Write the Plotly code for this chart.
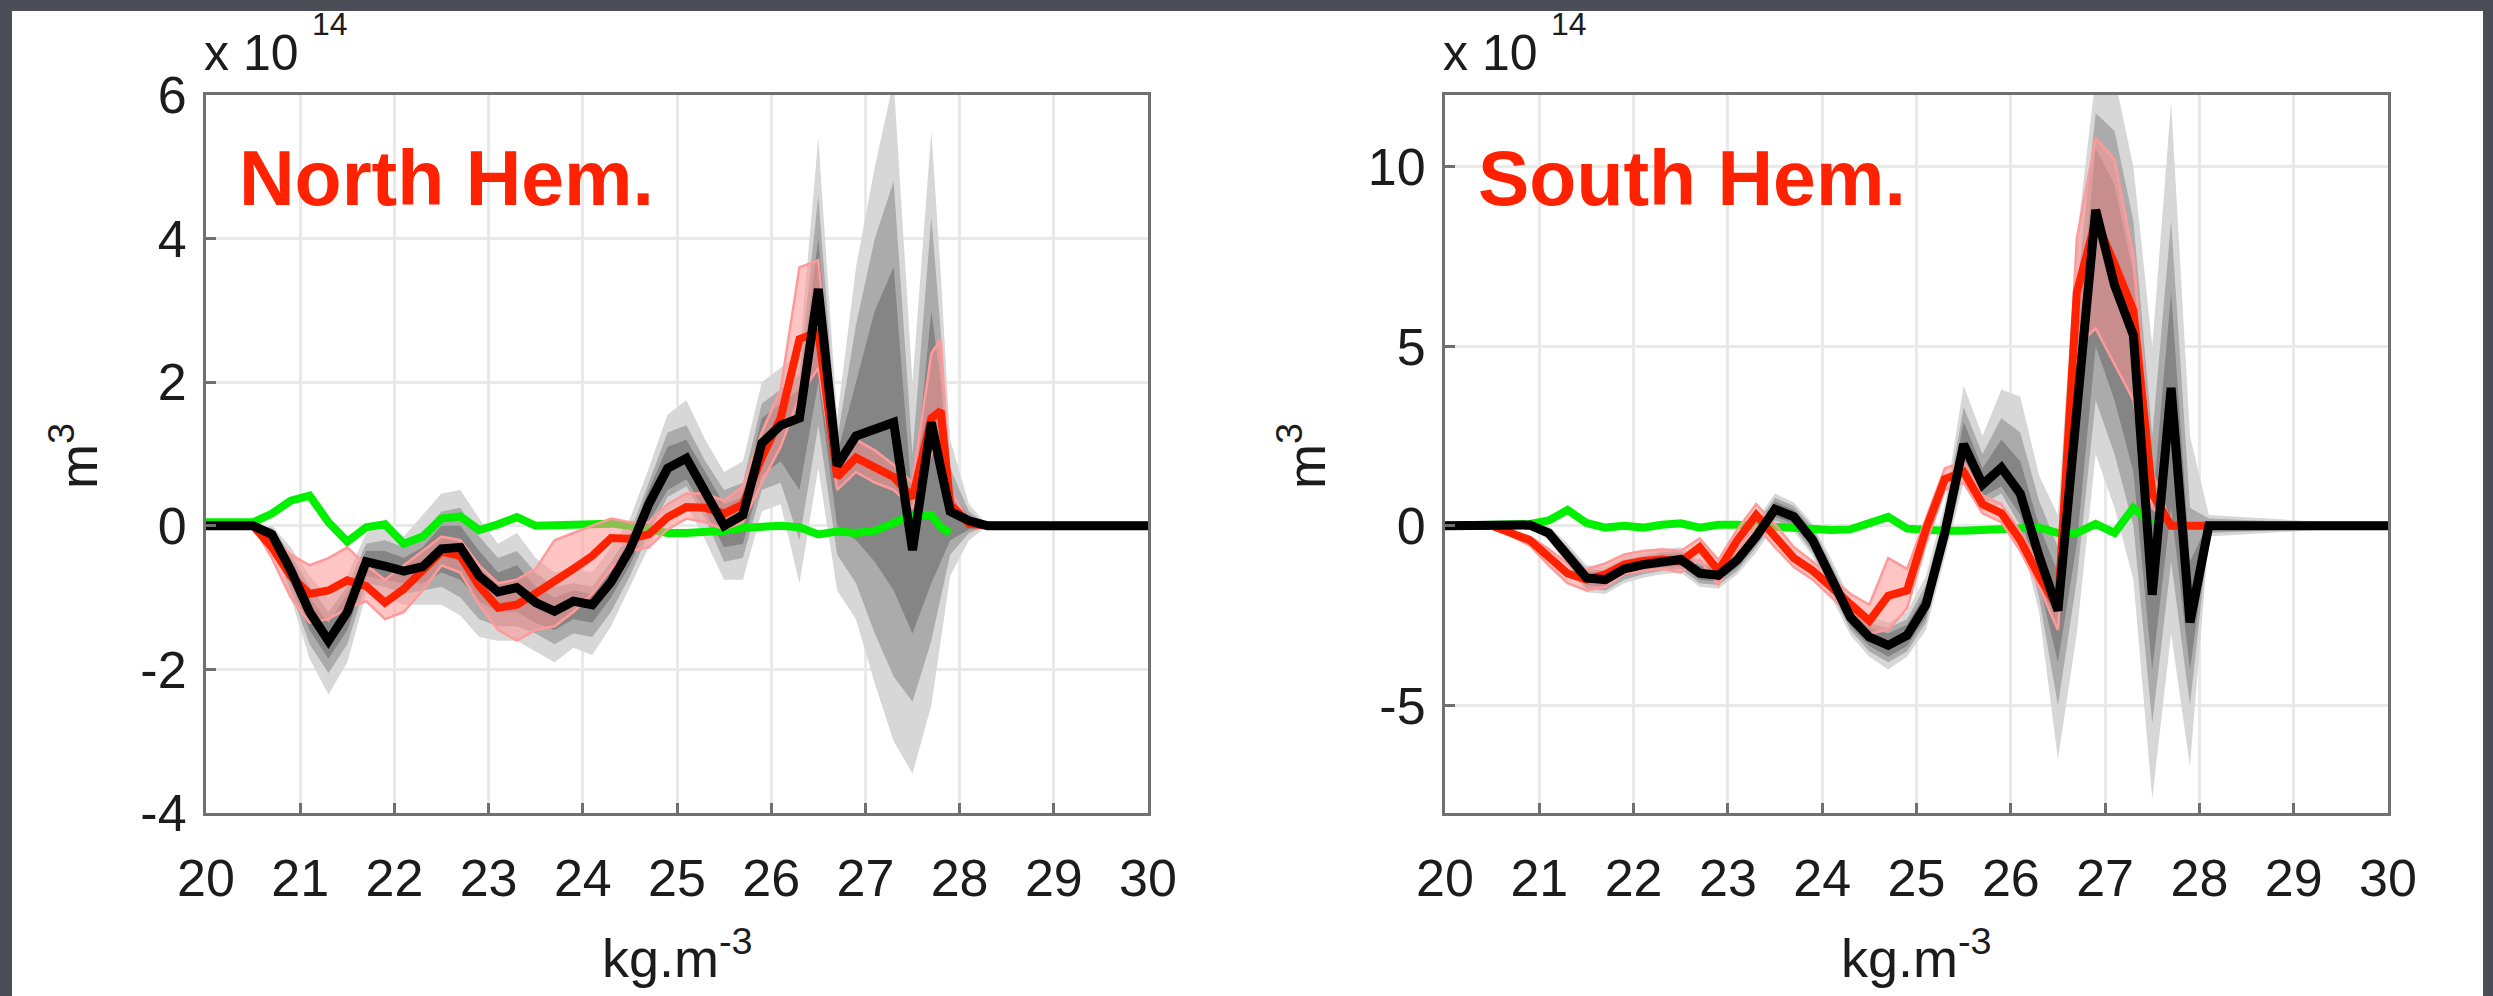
import plotly.graph_objects as go

# ---------------- data: North Hemisphere ----------------
nh_x = [20.0, 20.5, 20.7, 20.9, 21.1, 21.3, 21.5, 21.7, 21.9, 22.1, 22.3, 22.5, 22.7, 22.9,
        23.1, 23.3, 23.5, 23.7, 23.9, 24.1, 24.3, 24.5, 24.7, 24.9, 25.1, 25.3, 25.5, 25.7,
        25.9, 26.1, 26.3, 26.5, 26.7, 26.9, 27.1, 27.3, 27.5, 27.7, 27.8, 27.9, 28.1, 28.3, 30.0]
nh_black = [0, 0, -0.12, -0.62, -1.2, -1.6, -1.2, -0.5, -0.56, -0.63, -0.57, -0.32, -0.3, -0.7,
            -0.92, -0.86, -1.07, -1.19, -1.05, -1.1, -0.78, -0.33, 0.3, 0.8, 0.94, 0.48, 0.0, 0.15,
            1.15, 1.4, 1.5, 3.3, 0.84, 1.25, 1.35, 1.44, -0.34, 1.44, 0.8, 0.2, 0.07, 0, 0]
nh_red = [0, 0, -0.3, -0.7, -0.95, -0.9, -0.76, -0.84, -1.07, -0.88, -0.62, -0.36, -0.42, -0.84,
          -1.14, -1.1, -0.94, -0.78, -0.6, -0.42, -0.17, -0.18, -0.12, 0.12, 0.26, 0.25, 0.17, 0.3,
          0.95, 1.5, 2.6, 2.7, 0.68, 0.95, 0.8, 0.68, 0.39, 1.5, 1.6, 0.3, 0.03, 0, 0]
nh_green = [0.05, 0.05, 0.17, 0.35, 0.42, 0.05, -0.22, -0.02, 0.02, -0.25, -0.15, 0.1, 0.13, -0.06,
            0.02, 0.12, 0.0, 0.01, 0.02, 0.04, 0.03, 0.0, -0.05, -0.1, -0.1, -0.09, -0.07, -0.03,
            -0.02, 0.0, -0.02, -0.12, -0.08, -0.1, -0.07, 0.05, 0.15, 0.15, -0.02, -0.1, None, None, None]
nh_pink_lo = [0, 0, -0.45, -1.0, -1.35, -1.3, -1.15, -1.05, -1.3, -1.2, -0.9, -0.55, -0.65, -1.1,
              -1.45, -1.6, -1.45, -1.4, -1.2, -0.95, -0.6, -0.35, -0.3, -0.05, 0.1, 0.05, -0.05, 0.05,
              0.6, 1.1, 1.8, 2.2, 0.5, 0.75, 0.6, 0.5, 0.25, 1.0, 1.1, 0.2, 0.0, 0, 0]
nh_pink_hi = [0, 0, -0.15, -0.4, -0.55, -0.45, -0.3, -0.55, -0.75, -0.55, -0.35, -0.15, -0.2, -0.55,
              -0.8, -0.75, -0.6, -0.2, -0.1, 0.0, 0.1, 0.05, 0.05, 0.3, 0.45, 0.45, 0.35, 0.55,
              1.3, 1.9, 3.6, 3.7, 0.9, 1.2, 1.05, 0.85, 0.6, 2.4, 2.6, 0.5, 0.05, 0, 0]
nh_light_lo = [0, 0, -0.25, -1.0, -1.85, -2.35, -1.9, -0.95, -1.0, -1.1, -1.1, -1.1, -1.25, -1.55,
               -1.6, -1.6, -1.75, -1.9, -1.7, -1.8, -1.4, -0.85, -0.3, 0.15, 0.3, -0.2, -0.75, -0.75,
               0.2, 0.3, -0.8, 0.8, -0.9, -1.3, -2.2, -3.0, -3.45, -2.5, -1.6, -0.7, -0.2, 0, 0]
nh_light_hi = [0, 0, 0.0, -0.3, -0.7, -1.0, -0.7, -0.1, 0.0, -0.15, 0.15, 0.45, 0.5, 0.1,
               -0.25, -0.1, -0.45, -0.65, -0.6, -0.65, -0.3, 0.1, 0.8, 1.55, 1.75, 1.2, 0.75, 0.9,
               2.0, 2.2, 2.4, 5.4, 1.5, 3.6, 5.0, 6.2, 2.0, 5.5, 3.5, 1.2, 0.3, 0, 0]
nh_mid_lo = [0, 0, -0.2, -0.9, -1.65, -2.05, -1.65, -0.8, -0.85, -0.95, -0.9, -0.85, -1.0, -1.3,
             -1.4, -1.4, -1.5, -1.65, -1.5, -1.55, -1.2, -0.7, -0.1, 0.4, 0.55, 0.1, -0.5, -0.45,
             0.5, 0.6, -0.2, 1.4, -0.4, -0.8, -1.5, -2.1, -2.45, -1.6, -1.0, -0.4, -0.1, 0, 0]
nh_mid_hi = [0, 0, -0.03, -0.4, -0.85, -1.2, -0.85, -0.25, -0.2, -0.3, -0.1, 0.2, 0.25, -0.15,
             -0.45, -0.35, -0.65, -0.85, -0.8, -0.85, -0.5, -0.1, 0.6, 1.3, 1.4, 0.9, 0.5, 0.6,
             1.7, 1.9, 2.1, 4.6, 1.2, 2.8, 4.0, 4.8, 1.0, 4.3, 2.7, 0.8, 0.2, 0, 0]
nh_dark_lo = [0, 0, -0.15, -0.8, -1.45, -1.85, -1.45, -0.7, -0.75, -0.8, -0.8, -0.65, -0.75, -1.05,
              -1.2, -1.2, -1.35, -1.45, -1.3, -1.35, -1.0, -0.55, 0.05, 0.5, 0.65, 0.2, -0.3, -0.25,
              0.7, 0.9, 0.5, 2.0, 0.0, -0.2, -0.5, -0.9, -1.5, -0.8, -0.5, -0.2, -0.05, 0, 0]
nh_dark_hi = [0, 0, -0.06, -0.45, -1.0, -1.35, -0.95, -0.35, -0.35, -0.45, -0.3, 0.0, 0.0, -0.35,
              -0.65, -0.55, -0.85, -1.0, -0.9, -0.95, -0.6, -0.2, 0.5, 1.1, 1.2, 0.75, 0.3, 0.4,
              1.5, 1.7, 1.9, 4.0, 1.0, 2.0, 3.0, 3.6, 0.3, 3.0, 2.0, 0.5, 0.12, 0, 0]

# ---------------- data: South Hemisphere ----------------
sh_x = [20.0, 20.5, 20.9, 21.1, 21.3, 21.5, 21.7, 21.9, 22.1, 22.3, 22.5, 22.7, 22.9, 23.1,
        23.3, 23.5, 23.7, 23.9, 24.1, 24.3, 24.5, 24.7, 24.9, 25.1, 25.3, 25.5, 25.7, 25.9,
        26.1, 26.3, 26.5, 26.7, 26.9, 27.1, 27.3, 27.5, 27.7, 27.9, 28.1, 30.0]
sh_black = [0, 0.02, 0.02, -0.2, -0.82, -1.45, -1.5, -1.2, -1.08, -0.98, -0.94, -1.32, -1.38, -0.95,
            -0.3, 0.46, 0.25, -0.4, -1.5, -2.55, -3.1, -3.33, -3.05, -2.2, -0.2, 2.27, 1.15, 1.62,
            0.9, -0.85, -2.36, 3.0, 8.8, 6.7, 5.3, -1.92, 3.84, -2.69, 0, 0]
sh_red = [0, 0, -0.4, -0.85, -1.33, -1.5, -1.35, -1.08, -0.98, -0.94, -0.99, -0.6, -1.25, -0.4,
          0.3, -0.3, -0.9, -1.25, -1.7, -2.22, -2.65, -1.95, -1.8, -0.1, 1.3, 1.5, 0.6, 0.35,
          -0.4, -1.4, -2.3, 6.5, 8.5, 7.3, 6.0, 0.9, 0.0, 0.0, 0.0, 0.0]
sh_green = [0, 0.03, 0.05, 0.15, 0.44, 0.08, -0.05, 0.0, -0.05, 0.03, 0.07, -0.05, 0.03, 0.03,
            0.0, -0.05, -0.1, -0.12, -0.12, -0.1, 0.1, 0.25, -0.08, -0.12, -0.14, -0.14, -0.12, -0.1,
            -0.08, -0.05, -0.2, -0.2, 0.05, -0.2, 0.5, 0.05, None, None, None, None]
sh_pink_lo = [0, 0, -0.55, -1.1, -1.6, -1.8, -1.7, -1.35, -1.25, -1.2, -1.3, -0.95, -1.65, -0.75,
              0.0, -0.6, -1.15, -1.5, -2.0, -2.5, -3.0, -2.9, -2.3, -0.5, 1.0, 1.2, 0.35, 0.1,
              -0.7, -1.7, -2.9, 5.0, 5.5, 4.5, 3.5, 0.5, 0, 0, 0, 0]
sh_pink_hi = [0, 0, -0.3, -0.65, -1.05, -1.2, -1.05, -0.8, -0.7, -0.65, -0.7, -0.35, -0.95, -0.1,
              0.6, 0.05, -0.6, -1.0, -1.45, -1.9, -2.2, -0.9, -1.2, 0.2, 1.6, 1.8, 0.85, 0.6,
              -0.15, -1.1, -1.9, 8.0, 10.8, 10.2, 7.5, 1.5, 0.05, 0, 0, 0]
sh_light_lo = [0, 0, -0.05, -0.4, -1.15, -1.85, -1.9, -1.6, -1.45, -1.35, -1.3, -1.7, -1.75, -1.35,
               -0.75, 0.05, -0.15, -0.85, -2.0, -3.05, -3.65, -4.0, -3.65, -2.9, -0.9, 1.2, 0.4, 0.6,
               -0.3, -2.4, -6.5, -3.0, 2.0, 0.5, -1.5, -7.6, -3.0, -6.7, -0.3, 0]
sh_light_hi = [0, 0.03, 0.05, 0.0, -0.5, -1.1, -1.15, -0.85, -0.75, -0.65, -0.6, -0.95, -1.0, -0.55,
               0.15, 0.9, 0.65, 0.05, -0.95, -2.05, -2.5, -2.7, -2.4, -1.4, 0.6, 3.9, 2.5, 3.8,
               3.6, 1.4, 0.3, 8.0, 12.5, 12.5, 10.0, 5.0, 11.8, 2.5, 0.3, 0]
sh_mid_lo = [0, 0, -0.03, -0.32, -1.05, -1.75, -1.8, -1.5, -1.35, -1.25, -1.2, -1.6, -1.65, -1.25,
             -0.6, 0.15, -0.05, -0.75, -1.85, -2.9, -3.5, -3.8, -3.5, -2.7, -0.7, 1.5, 0.6, 0.9,
             0.0, -2.0, -5.0, -1.5, 3.5, 2.0, 0.0, -5.5, -1.0, -5.0, -0.2, 0]
sh_mid_hi = [0, 0.03, 0.04, -0.08, -0.6, -1.2, -1.25, -0.95, -0.83, -0.73, -0.7, -1.05, -1.1, -0.65,
             0.05, 0.78, 0.55, -0.05, -1.1, -2.2, -2.7, -2.85, -2.6, -1.65, 0.35, 3.3, 2.0, 3.0,
             2.6, 0.7, -0.6, 6.5, 11.5, 11.0, 8.5, 2.5, 8.5, 0.5, 0.2, 0]
sh_dark_lo = [0, 0, -0.02, -0.26, -0.95, -1.65, -1.7, -1.4, -1.27, -1.17, -1.12, -1.5, -1.55, -1.15,
              -0.5, 0.25, 0.05, -0.65, -1.75, -2.8, -3.35, -3.65, -3.35, -2.55, -0.55, 1.8, 0.8, 1.1,
              0.3, -1.6, -3.8, -0.5, 5.0, 3.5, 1.5, -4.0, 0.5, -4.0, -0.1, 0]
sh_dark_hi = [0, 0.02, 0.03, -0.14, -0.7, -1.28, -1.32, -1.02, -0.9, -0.8, -0.77, -1.12, -1.18, -0.75,
              -0.1, 0.68, 0.45, -0.15, -1.25, -2.3, -2.85, -3.0, -2.75, -1.85, 0.15, 2.9, 1.6, 2.4,
              1.8, 0.0, -1.3, 5.0, 10.5, 9.5, 7.0, 0.5, 6.5, -1.0, 0.1, 0]

# ---------------- ticks / labels ----------------
x_ticks = [20, 21, 22, 23, 24, 25, 26, 27, 28, 29, 30]
x_ticktext = ["20", "21", "22", "23", "24", "25", "26", "27", "28", "29", "30"]
nh_yticks = [-4, -2, 0, 2, 4, 6]
nh_yticktext = ["-4", "-2", "0", "2", "4", "6"]
sh_yticks = [-5, 0, 5, 10]
sh_yticktext = ["-5", "0", "5", "10"]
titles = ["North Hem.", "South Hem."]
scale_base, scale_exp = "x 10", "14"

W, H = 2493, 996
FONT = "Liberation Sans, Arial, Helvetica, sans-serif"
LIGHT, MID, DARK = "#d7d7d7", "#ababab", "#858585"
PINK_FILL, PINK_EDGE = "rgba(255,150,150,0.55)", "#ff9a9a"
RED, GREEN = "#ff2200", "#00f000"
TXT = "#1c1c1c"


def px(x):
    return x / W


def py(y):
    return 1 - y / H


fig = go.Figure()


def band(x, lo, hi, color, xa, ya):
    fig.add_trace(go.Scatter(x=x, y=lo, mode="lines", line=dict(width=0, color=color),
                             hoverinfo="skip", showlegend=False, xaxis=xa, yaxis=ya))
    fig.add_trace(go.Scatter(x=x, y=hi, mode="lines", line=dict(width=0, color=color),
                             fill="tonexty", fillcolor=color, hoverinfo="skip",
                             showlegend=False, xaxis=xa, yaxis=ya))


panels = [
    (nh_x, nh_black, nh_red, nh_green, nh_pink_lo, nh_pink_hi, nh_light_lo, nh_light_hi,
     nh_mid_lo, nh_mid_hi, nh_dark_lo, nh_dark_hi, "x", "y"),
    (sh_x, sh_black, sh_red, sh_green, sh_pink_lo, sh_pink_hi, sh_light_lo, sh_light_hi,
     sh_mid_lo, sh_mid_hi, sh_dark_lo, sh_dark_hi, "x2", "y2"),
]

for (x, blk, red, grn, plo, phi, llo, lhi, mlo, mhi, dlo, dhi, xa, ya) in panels:
    band(x, llo, lhi, LIGHT, xa, ya)
    band(x, mlo, mhi, MID, xa, ya)
    band(x, dlo, dhi, DARK, xa, ya)
    fig.add_trace(go.Scatter(x=x, y=grn, mode="lines", line=dict(color=GREEN, width=8),
                             showlegend=False, xaxis=xa, yaxis=ya))
    fig.add_trace(go.Scatter(x=x, y=plo, mode="lines", line=dict(color=PINK_EDGE, width=2.5),
                             showlegend=False, xaxis=xa, yaxis=ya))
    fig.add_trace(go.Scatter(x=x, y=phi, mode="lines", line=dict(color=PINK_EDGE, width=2.5),
                             fill="tonexty", fillcolor=PINK_FILL,
                             showlegend=False, xaxis=xa, yaxis=ya))
    fig.add_trace(go.Scatter(x=x, y=red, mode="lines", line=dict(color=RED, width=8),
                             showlegend=False, xaxis=xa, yaxis=ya))
    fig.add_trace(go.Scatter(x=x, y=blk, mode="lines", line=dict(color="black", width=9),
                             showlegend=False, xaxis=xa, yaxis=ya))

axis_common = dict(showline=True, mirror=True, linecolor="#707070", linewidth=3,
                   ticks="inside", ticklen=10, tickwidth=3, tickcolor="#707070",
                   showgrid=True, gridcolor="#e9e9e9", gridwidth=3, zeroline=False,
                   automargin=False,
                   tickfont=dict(family=FONT, size=52, color=TXT))

ydom = [py(813), py(95)]
fig.update_layout(
    width=W, height=H,
    margin=dict(l=0, r=0, t=0, b=0, pad=0, autoexpand=False),
    paper_bgcolor="#4b4e56", plot_bgcolor="white",
    xaxis=dict(domain=[px(206), px(1148)], range=[20, 30], tickvals=x_ticks, ticktext=x_ticktext,
               anchor="y", ticklabelstandoff=18, **axis_common),
    yaxis=dict(domain=ydom, range=[-4, 6], tickvals=nh_yticks, ticktext=nh_yticktext,
               anchor="x", ticklabelstandoff=6, **axis_common),
    xaxis2=dict(domain=[px(1445), px(2388)], range=[20, 30], tickvals=x_ticks, ticktext=x_ticktext,
                anchor="y2", ticklabelstandoff=18, **axis_common),
    yaxis2=dict(domain=ydom, range=[-8, 12], tickvals=sh_yticks, ticktext=sh_yticktext,
                anchor="x2", ticklabelstandoff=6, **axis_common),
    shapes=[dict(type="rect", xref="paper", yref="paper", x0=px(12), x1=px(2483),
                 y0=-0.01, y1=py(11), fillcolor="white", line=dict(width=0), layer="below")],
)

ann = []
for (left, right, ytx, title) in [(206, 1148, 74, titles[0]), (1445, 2388, 1302, titles[1])]:
    ann.append(dict(text=scale_base, x=px(left - 4), y=py(53), xref="paper", yref="paper",
                    xanchor="left", yanchor="middle", showarrow=False,
                    font=dict(family=FONT, size=50, color=TXT)))
    ann.append(dict(text=scale_exp, x=px(left + 104), y=py(24), xref="paper", yref="paper",
                    xanchor="left", yanchor="middle", showarrow=False,
                    font=dict(family=FONT, size=32, color=TXT)))
    ann.append(dict(text="kg.m<sup>-3</sup>", x=px((left + right) / 2), y=py(954), xref="paper",
                    yref="paper", xanchor="center", yanchor="middle", showarrow=False,
                    font=dict(family=FONT, size=54, color=TXT)))
    ann.append(dict(text="m<sup>3</sup>", x=px(ytx), y=py(456), xref="paper", yref="paper",
                    xanchor="center", yanchor="middle", textangle=-90, showarrow=False,
                    font=dict(family=FONT, size=54, color=TXT)))
    ann.append(dict(text="<b>%s</b>" % title, x=px(left + 31), y=py(178), xref="paper",
                    yref="paper", xanchor="left", yanchor="middle", showarrow=False,
                    font=dict(family=FONT, size=77, color=RED)))
fig.update_layout(annotations=ann)

fig.write_html("out.html")
